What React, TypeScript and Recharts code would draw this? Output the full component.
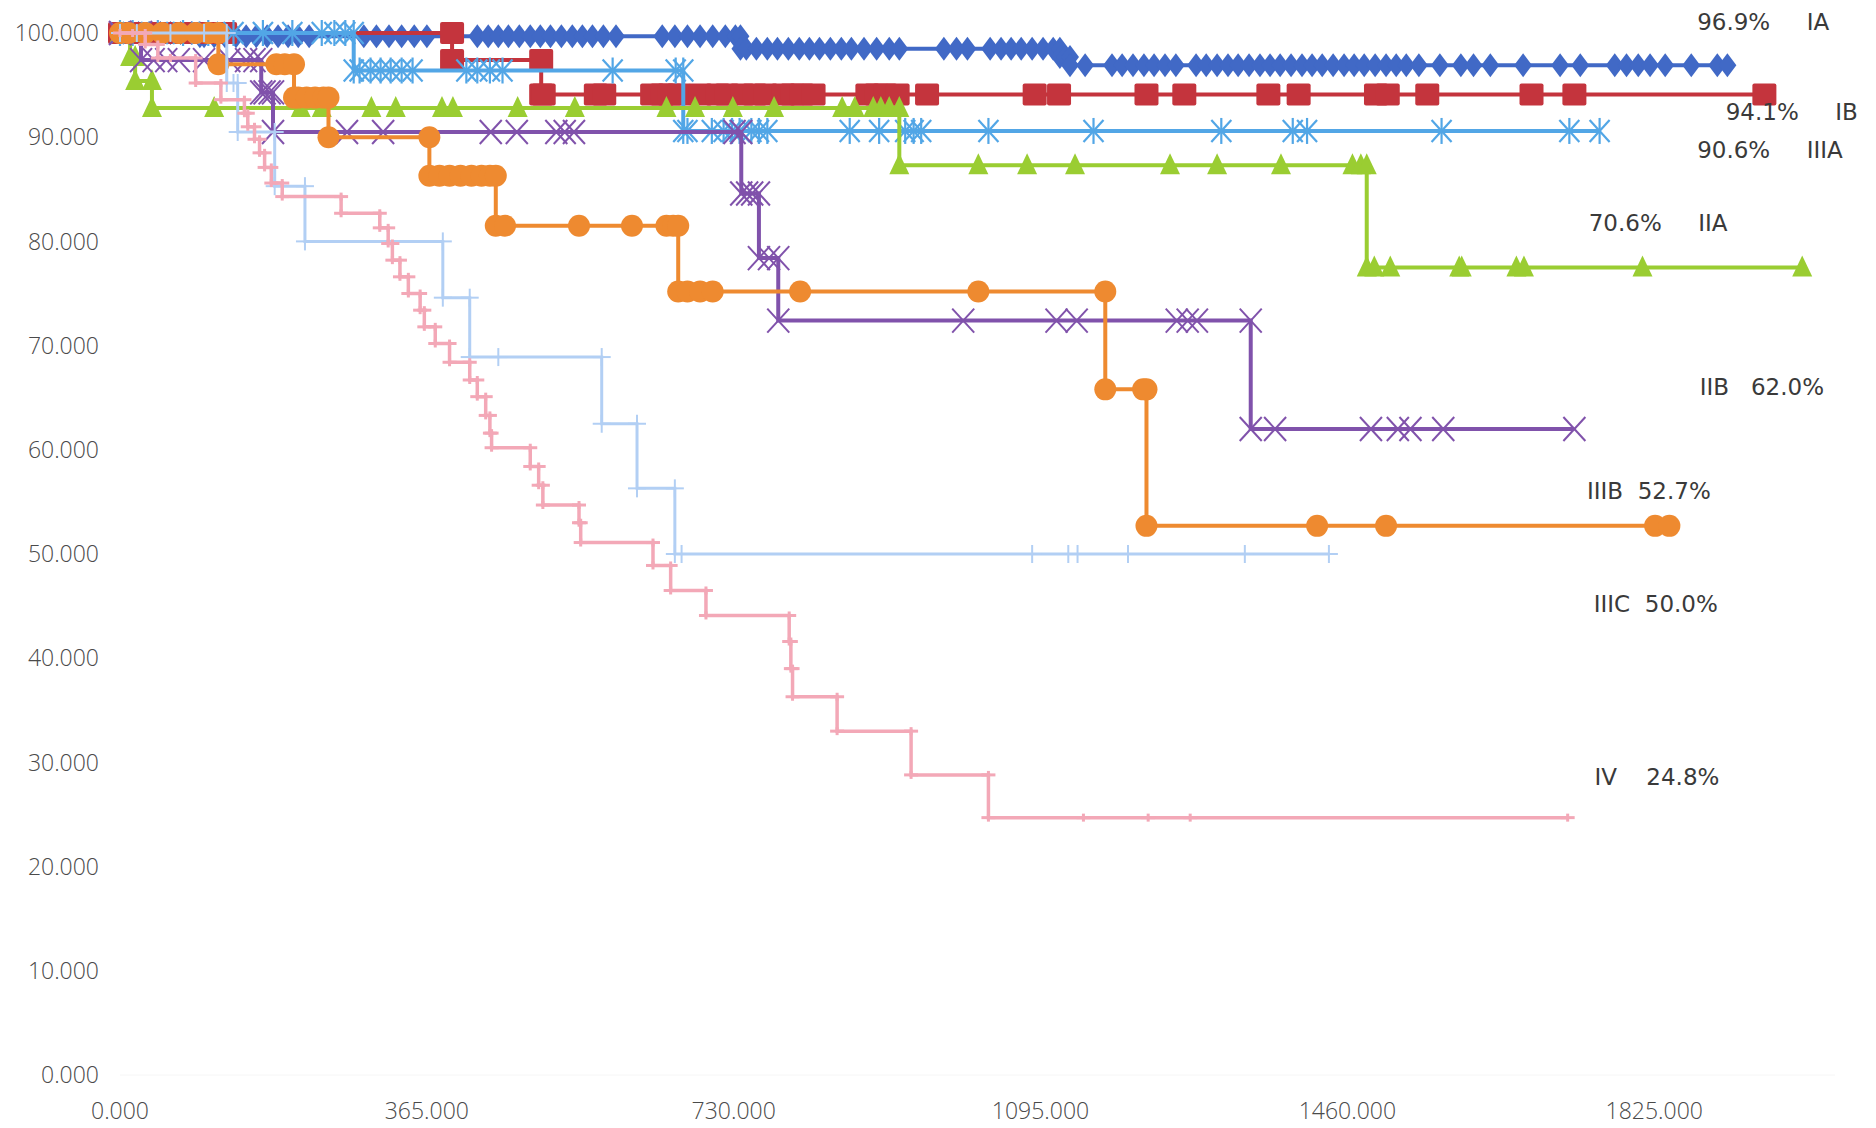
import React from "react";
import { ReferenceDot, Scatter, ScatterChart, XAxis, YAxis } from "recharts";

// Kaplan-Meier survival by stage: [day, survival % after the event]
type Step = [number, number];

const X_TICKS = [0, 365, 730, 1095, 1460, 1825];
const Y_TICKS = [0, 10, 20, 30, 40, 50, 60, 70, 80, 90, 100];

const STAGES = ["IA", "IB", "IIIA", "IIA", "IIB", "IIIB", "IIIC", "IV"];
const END_RATES = ["96.9%", "94.1%", "90.6%", "70.6%", "62.0%", "52.7%", "50.0%", "24.8%"];

const IA_EVENTS: Step[] = [[95, 99.7], [738, 98.5], [1118, 97.7], [1130, 96.9]];
const IA_CENSORED = [
  10, 22, 35, 48, 60, 72, 85, 100, 112, 125, 138, 150, 162, 175, 188, 200, 212, 225,
  290, 305, 320, 335, 350, 365, 425, 438, 450, 462, 475, 488, 500, 512, 525, 538, 550,
  562, 575, 590, 645, 660, 675, 690, 705, 720, 732, 745, 757, 770, 782, 795, 808, 820,
  832, 845, 858, 870, 885, 900, 915, 927, 980, 995, 1008, 1035, 1048, 1060, 1072, 1085,
  1098, 1110, 1124, 1148, 1180, 1192, 1205, 1218, 1230, 1243, 1256, 1280, 1292, 1305,
  1318, 1330, 1343, 1356, 1368, 1380, 1393, 1406, 1418, 1430, 1443, 1456, 1468, 1480,
  1493, 1506, 1518, 1530, 1545, 1570, 1595, 1610, 1630, 1669, 1713, 1737, 1778, 1792,
  1806, 1820, 1838, 1869, 1900,
];
const IA_LAST = 1912;

const IB_EVENTS: Step[] = [[395, 97.4], [501, 94.1]];
const IB_CENSORED = [
  8, 20, 35, 50, 65, 80, 95, 110, 125, 504, 566, 576, 633, 645, 654, 665, 690, 711, 722,
  740, 755, 768, 789, 800, 811, 825, 889, 900, 910, 925, 960, 1088, 1117, 1221, 1266,
  1366, 1402, 1494, 1508, 1555, 1679, 1730,
];
const IB_LAST = 1956;

const IIIA_EVENTS: Step[] = [[278, 96.4], [670, 90.6]];
const IIIA_CENSORED = [
  15, 45, 75, 105, 135, 170, 205, 240, 255, 268, 285, 298, 310, 322, 335, 348, 412, 425,
  440, 455, 586, 661, 675, 704, 718, 728, 737, 751, 760, 770, 868, 903, 934, 944, 953,
  1033, 1158, 1310, 1395, 1412, 1572, 1724,
];
const IIIA_LAST = 1760;

const IIA_EVENTS: Step[] = [[12, 97.7], [18, 95.4], [38, 92.8], [927, 87.3], [1483, 77.5]];
const IIA_CENSORED = [
  112, 215, 240, 299, 328, 383, 396, 473, 541, 650, 684, 729, 778, 859, 874, 896, 905,
  915, 1021, 1079, 1136, 1249, 1305, 1381, 1466, 1476, 1492, 1511, 1593, 1596, 1661,
  1670, 1811,
];
const IIA_LAST = 2001;

const IIB_EVENTS: Step[] = [
  [25, 97.4], [168, 94.3], [182, 90.5], [739, 84.6], [760, 78.4], [783, 72.4], [1345, 62.0],
];
const IIB_CENSORED = [
  40, 55, 70, 100, 130, 150, 160, 172, 178, 270, 313, 441, 472, 519, 529, 540, 731, 746,
  752, 772, 1003, 1114, 1138, 1257, 1270, 1281, 1374, 1488, 1520, 1535, 1574,
];
const IIB_LAST = 1730;

const IIIB_EVENTS: Step[] = [
  [117, 97.0], [207, 93.8], [248, 90.0], [368, 86.3], [447, 81.5], [664, 75.2],
  [1172, 65.8], [1221, 52.7],
];
const IIIB_CENSORED = [
  10, 30, 50, 70, 90, 105, 186, 196, 212, 222, 232, 242, 380, 392, 405, 418, 430, 440,
  458, 546, 609, 650, 658, 675, 690, 705, 809, 1021, 1217, 1424, 1506, 1826,
];
const IIIB_LAST = 1843;

const IIIC_EVENTS: Step[] = [
  [127, 95.2], [140, 90.5], [184, 85.3], [220, 80.0], [384, 74.6], [416, 68.9],
  [573, 62.5], [615, 56.3], [660, 50.0],
];
const IIIC_CENSORED = [20, 60, 100, 135, 450, 668, 1085, 1128, 1139, 1199, 1338];
const IIIC_LAST = 1438;

const IV_EVENTS: Step[] = [
  [30, 98.9], [45, 97.6], [90, 95.2], [120, 93.6], [148, 92.3], [152, 91.0], [160, 89.8],
  [166, 88.5], [172, 87.1], [180, 85.6], [193, 84.3], [263, 82.7], [309, 81.3],
  [319, 79.8], [324, 78.2], [333, 76.6], [343, 75.0], [357, 73.4], [362, 71.8],
  [375, 70.2], [392, 68.4], [416, 66.7], [425, 65.1], [435, 63.3], [440, 61.6],
  [442, 60.2], [488, 58.4], [498, 56.6], [503, 54.7], [546, 53.0], [548, 51.1],
  [634, 48.9], [655, 46.5], [697, 44.1], [796, 41.6], [798, 39.0], [800, 36.3],
  [853, 33.0], [941, 28.8], [1033, 24.7],
];
const IV_CENSORED = [15, 60, 1146, 1223, 1273];
const IV_LAST = 1722;

// builds the step curve the way the spreadsheet plotted it: a point at each corner and each censor
function kmPoints(events: Step[], censored: number[], last: number) {
  const marks = [
    ...events.map(([t, v]) => ({ t, v })),
    ...censored.map((t) => ({ t, v: null as number | null })),
    { t: last, v: null as number | null },
  ].sort((a, b) => a.t - b.t);
  const pts = [{ x: 0, y: 100 }];
  let cur = 100;
  for (const m of marks) {
    pts.push({ x: m.t, y: cur });
    if (m.v !== null) {
      cur = m.v;
      pts.push({ x: m.t, y: cur });
    }
  }
  return pts;
}

type Kind = "diamond" | "square" | "asterisk" | "triangle" | "x" | "circle" | "plus" | "tick";

const marker = (kind: Kind, color: string) => (props: any) => {
  const { cx, cy } = props;
  if (cx == null || cy == null) return <g />;
  switch (kind) {
    case "diamond":
      return <polygon points={`${cx},${cy - 12} ${cx + 9},${cy} ${cx},${cy + 12} ${cx - 9},${cy}`} fill={color} />;
    case "square":
      return <rect x={cx - 12} y={cy - 11} width={24} height={22} rx={2} fill={color} />;
    case "triangle":
      return <polygon points={`${cx},${cy - 12} ${cx + 10},${cy + 9} ${cx - 10},${cy + 9}`} fill={color} />;
    case "circle":
      return <circle cx={cx} cy={cy} r={11} fill={color} />;
    case "x":
      return (
        <g stroke={color} strokeWidth={2}>
          <line x1={cx - 11} y1={cy - 12} x2={cx + 11} y2={cy + 12} />
          <line x1={cx - 11} y1={cy + 12} x2={cx + 11} y2={cy - 12} />
        </g>
      );
    case "asterisk":
      return (
        <g stroke={color} strokeWidth={2.2}>
          <line x1={cx - 10} y1={cy - 11} x2={cx + 10} y2={cy + 11} />
          <line x1={cx - 10} y1={cy + 11} x2={cx + 10} y2={cy - 11} />
          <line x1={cx} y1={cy - 13} x2={cx} y2={cy + 13} />
        </g>
      );
    case "plus":
      return (
        <g stroke={color} strokeWidth={2}>
          <line x1={cx - 9} y1={cy} x2={cx + 9} y2={cy} />
          <line x1={cx} y1={cy - 9} x2={cx} y2={cy + 9} />
        </g>
      );
    default:
      return (
        <g stroke={color} strokeWidth={3}>
          <line x1={cx - 7} y1={cy} x2={cx + 7} y2={cy} />
          <line x1={cx} y1={cy - 4} x2={cx} y2={cy + 4} />
        </g>
      );
  }
};

const SERIES = [
  { name: "IA", pts: kmPoints(IA_EVENTS, IA_CENSORED, IA_LAST), color: "#4169c6", kind: "diamond" as Kind, w: 4 },
  { name: "IB", pts: kmPoints(IB_EVENTS, IB_CENSORED, IB_LAST), color: "#c4343d", kind: "square" as Kind, w: 4 },
  { name: "IIIA", pts: kmPoints(IIIA_EVENTS, IIIA_CENSORED, IIIA_LAST), color: "#52a6e6", kind: "asterisk" as Kind, w: 4 },
  { name: "IIA", pts: kmPoints(IIA_EVENTS, IIA_CENSORED, IIA_LAST), color: "#9acd32", kind: "triangle" as Kind, w: 4 },
  { name: "IIB", pts: kmPoints(IIB_EVENTS, IIB_CENSORED, IIB_LAST), color: "#8052ab", kind: "x" as Kind, w: 4 },
  { name: "IIIB", pts: kmPoints(IIIB_EVENTS, IIIB_CENSORED, IIIB_LAST), color: "#ee8a30", kind: "circle" as Kind, w: 4 },
  { name: "IIIC", pts: kmPoints(IIIC_EVENTS, IIIC_CENSORED, IIIC_LAST), color: "#b2cff4", kind: "plus" as Kind, w: 3 },
  { name: "IV", pts: kmPoints(IV_EVENTS, IV_CENSORED, IV_LAST), color: "#f3a8b7", kind: "tick" as Kind, w: 3.5 },
];

// where each end-of-curve note sits (left edge, vertical centre), in chart units
const NOTES = [
  { x: 1876, y: 101.05, text: `${END_RATES[0]}     ${STAGES[0]}` },
  { x: 1910, y: 92.4, text: `${END_RATES[1]}     ${STAGES[1]}` },
  { x: 1876, y: 88.8, text: `${END_RATES[2]}     ${STAGES[2]}` },
  { x: 1747, y: 81.8, text: `${END_RATES[3]}     ${STAGES[3]}` },
  { x: 1879, y: 66.0, text: `${STAGES[4]}   ${END_RATES[4]}` },
  { x: 1745, y: 56.0, text: `${STAGES[5]}  ${END_RATES[5]}` },
  { x: 1753, y: 45.2, text: `${STAGES[6]}  ${END_RATES[6]}` },
  { x: 1754, y: 28.6, text: `${STAGES[7]}    ${END_RATES[7]}` },
];

const tickStyle = { fill: "#4a4a4a", fontSize: 23, fontWeight: 300, fontFamily: "'Open Sans', sans-serif" };

export default function App() {
  return (
    <div style={{ width: 1876, height: 1128, background: "#fff" }}>
      <style>{"body{margin:0}"}</style>
      <ScatterChart width={1876} height={1128} margin={{ top: 33, right: 41, bottom: 13, left: 10 }}>
        <XAxis
          type="number"
          dataKey="x"
          domain={[0, 2040]}
          ticks={X_TICKS}
          interval={0}
          tickFormatter={(v: number) => v.toFixed(3)}
          tick={tickStyle}
          tickLine={false}
          axisLine={{ stroke: "#f6f6f6" }}
          tickMargin={22}
          height={40}
        />
        <YAxis
          type="number"
          dataKey="y"
          domain={[0, 100]}
          ticks={Y_TICKS}
          interval={0}
          tickFormatter={(v: number) => v.toFixed(3)}
          tick={tickStyle}
          tickLine={false}
          axisLine={false}
          tickMargin={15}
          width={110}
        />
        {SERIES.map((s) => (
          <Scatter
            key={s.name}
            name={s.name}
            data={s.pts}
            fill={s.color}
            line={{ stroke: s.color, strokeWidth: s.w }}
            lineType="joint"
            shape={marker(s.kind, s.color)}
            isAnimationActive={false}
          />
        ))}
        {NOTES.map((n) => (
          <ReferenceDot
            key={n.text}
            x={n.x}
            y={n.y}
            r={0}
            ifOverflow="visible"
            shape={(p: any) => (
              <text
                x={p.cx}
                y={p.cy}
                dominantBaseline="central"
                fill="#3a3a3a"
                fontSize={23}
                fontFamily="'DejaVu Sans', sans-serif"
                style={{ whiteSpace: "pre" }}
              >
                {n.text}
              </text>
            )}
          />
        ))}
      </ScatterChart>
    </div>
  );
}
